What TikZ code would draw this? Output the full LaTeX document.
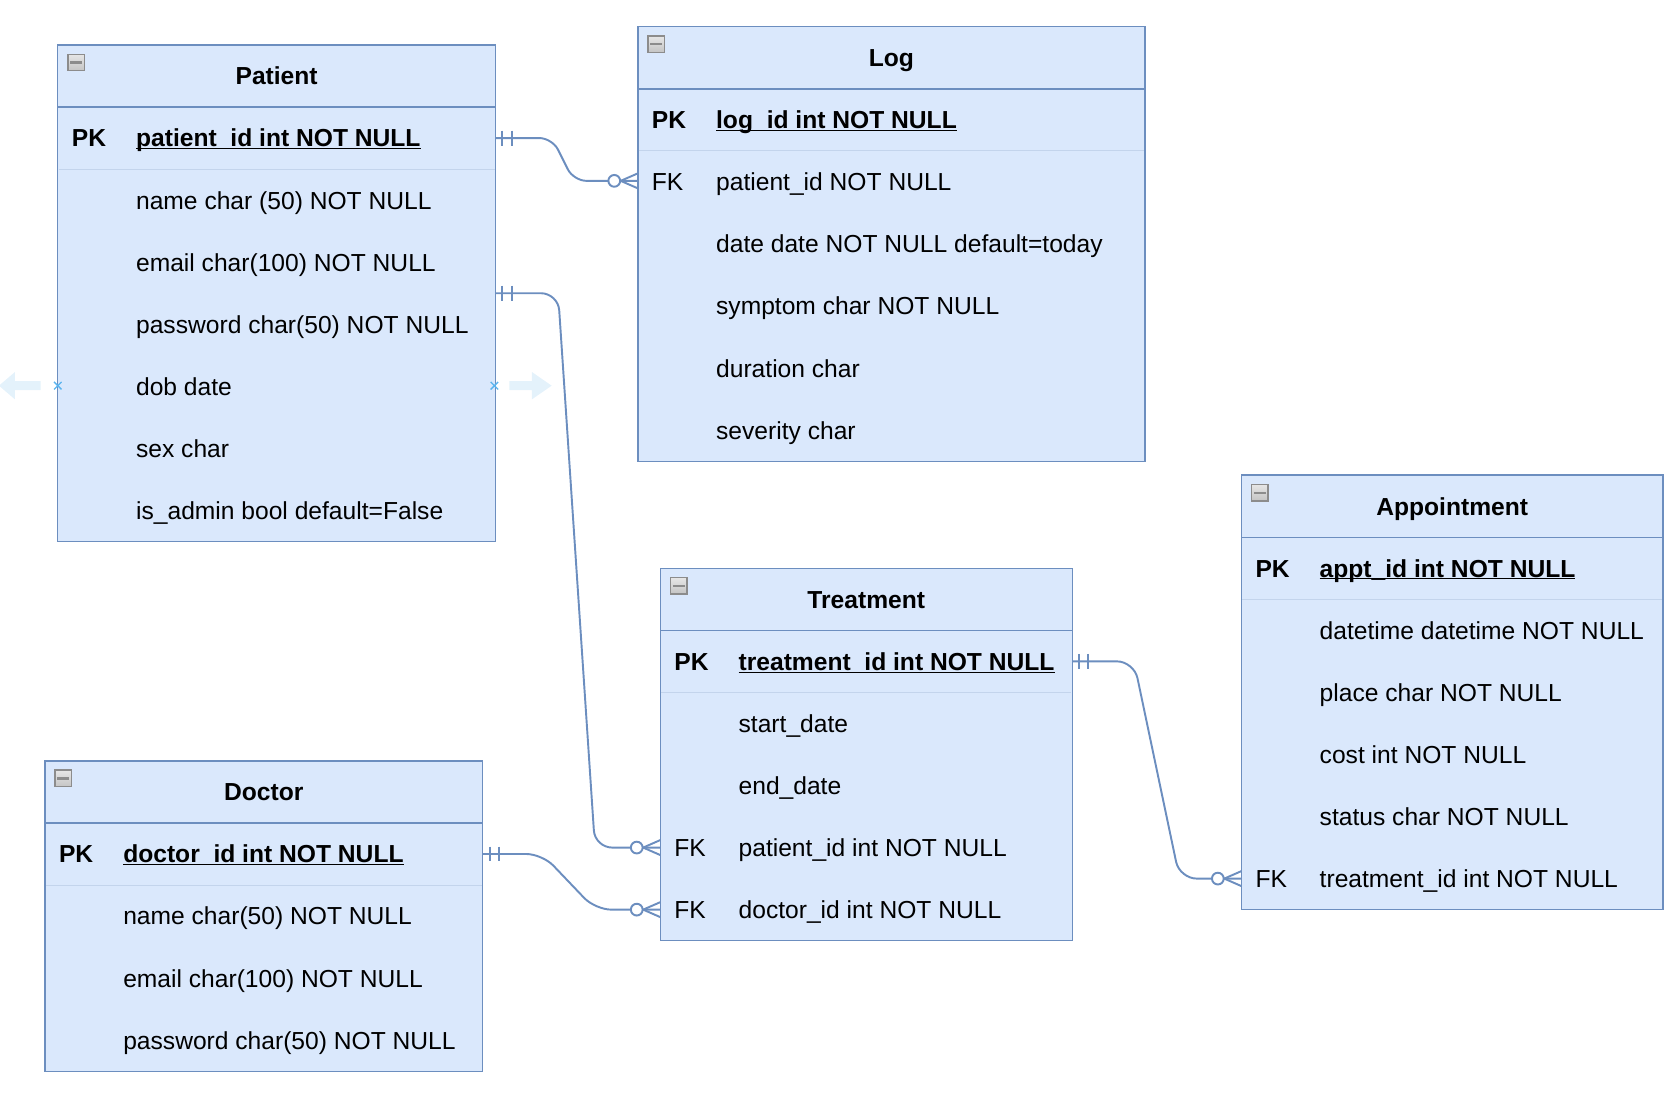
\documentclass[tikz,border=0pt]{standalone}
\usepackage{fontspec}
\setmainfont{Liberation Sans}
\usetikzlibrary{fit}
\definecolor{erfill}{HTML}{DAE8FC}
\definecolor{erstroke}{HTML}{6C8EBF}
\definecolor{ersep}{HTML}{C3D4EC}
\definecolor{selblue}{HTML}{5AB4EE}
\definecolor{selarrow}{HTML}{E4F2FB}
\definecolor{iconedge}{HTML}{8C8C8C}
\definecolor{icontop}{HTML}{E6E6E6}
\definecolor{iconbot}{HTML}{C4C4C4}
\tikzset{
  tabbox/.style={draw=erstroke, fill=erfill, line width=1.3pt, inner sep=0pt},
  tabline/.style={draw=erstroke, line width=1.3pt},
  pksep/.style={draw=ersep, line width=0.9pt},
  rowtxt/.style={anchor=base west, inner sep=0pt, font=\fontsize{23}{27}\selectfont},
  titletxt/.style={anchor=base, inner sep=0pt, font=\fontsize{23}{27}\selectfont\bfseries},
  erline/.style={draw=erstroke, line width=1.8pt},
  iconbox/.style={draw=iconedge, line width=1.3pt, top color=icontop, bottom color=iconbot,
    minimum width=15.5pt, minimum height=15.5pt, inner sep=0pt,
    path picture={\draw[line width=2pt] ([xshift=-5.5pt]path picture bounding box.center) -- ([xshift=5.5pt]path picture bounding box.center);}},
  selmark/.style={draw=selblue, line width=1.2pt},
  selarr/.style={fill=selarrow, draw=none}
}
% #1 id, #2 left, #3 top, #4 right, #5 rows, #6 title
\newcommand\ertable[6]{%
  \pgfmathsetmacro\erbot{#3+58+58*#5}%
  \pgfmathsetmacro\ercx{(#2+#4)/2}%
  \node[tabbox, fit={(#2,#3) (#4,\erbot)}] (#1) {};
  \draw[tabline] (#2,{#3+58}) -- (#4,{#3+58});
  \draw[pksep] ({#2+0.8},{#3+116}) -- ({#4-0.8},{#3+116});
  \node[titletxt] (#1-title) at (\ercx,{#3+29+8.3}) {#6};
  \node[iconbox] (#1-icon) at ({#2+17.2},{#3+16.4}) {};
}
% #1 name, #2 left, #3 top, #4 row index, #5 key, #6 field
\newcommand\errow[6]{%
  \node[rowtxt] (#1-k) at ({#2+13},{#3+58*#4+29+8.3}) {#5};
  \node[rowtxt] (#1-f) at ({#2+73},{#3+58*#4+29+8.3}) {#6};
}
\newcommand\pkfield[1]{\underline{\smash{#1}}}
\newcommand\mandone[1]{%
  \draw[erline] ([xshift=6.5pt,yshift=7pt]#1) -- ([xshift=6.5pt,yshift=-7pt]#1);
  \draw[erline] ([xshift=15pt,yshift=7pt]#1) -- ([xshift=15pt,yshift=-7pt]#1);
}
\newcommand\zeromany[1]{%
  \draw[erline] ([xshift=-16pt]#1) -- ([yshift=7pt]#1);
  \draw[erline] ([xshift=-16pt]#1) -- ([yshift=-7pt]#1);
  \draw[erline, fill=white] ([xshift=-22pt]#1) circle[radius=5.5pt];
}
\begin{document}
\begin{tikzpicture}[x=1pt,y=-1pt]
\useasboundingbox (0,0) rectangle (1568,1022);

% ---------- Patient ----------
\ertable{patient}{54}{42}{463}{7}{Patient}
\errow{pat1}{54}{42}{1}{\bfseries PK}{\bfseries\pkfield{patient\_id int NOT NULL}}
\errow{pat2}{54}{42}{2}{}{name char (50) NOT NULL}
\errow{pat3}{54}{42}{3}{}{email char(100) NOT NULL}
\errow{pat4}{54}{42}{4}{}{password char(50) NOT NULL}
\errow{pat5}{54}{42}{5}{}{dob date}
\errow{pat6}{54}{42}{6}{}{sex char}
\errow{pat7}{54}{42}{7}{}{is\_admin bool default=False}

% ---------- Log ----------
\ertable{log}{596}{25}{1070}{6}{Log}
\errow{log1}{596}{25}{1}{\bfseries PK}{\bfseries\pkfield{log\_id int NOT NULL}}
\errow{log2}{596}{25}{2}{FK}{patient\_id NOT NULL}
\errow{log3}{596}{25}{3}{}{date date NOT NULL default=today}
\errow{log4}{596}{25}{4}{}{symptom char NOT NULL}
\errow{log5}{596}{25}{5}{}{duration char}
\errow{log6}{596}{25}{6}{}{severity char}

% ---------- Appointment ----------
\ertable{appt}{1160}{444}{1554}{6}{Appointment}
\errow{ap1}{1160}{444}{1}{\bfseries PK}{\bfseries\pkfield{appt\_id int NOT NULL}}
\errow{ap2}{1160}{444}{2}{}{datetime datetime NOT NULL}
\errow{ap3}{1160}{444}{3}{}{place char NOT NULL}
\errow{ap4}{1160}{444}{4}{}{cost int NOT NULL}
\errow{ap5}{1160}{444}{5}{}{status char NOT NULL}
\errow{ap6}{1160}{444}{6}{FK}{treatment\_id int NOT NULL}

% ---------- Treatment ----------
\ertable{treat}{617}{531}{1002}{5}{Treatment}
\errow{tr1}{617}{531}{1}{\bfseries PK}{\bfseries\pkfield{treatment\_id int NOT NULL}}
\errow{tr2}{617}{531}{2}{}{start\_date}
\errow{tr3}{617}{531}{3}{}{end\_date}
\errow{tr4}{617}{531}{4}{FK}{patient\_id int NOT NULL}
\errow{tr5}{617}{531}{5}{FK}{doctor\_id int NOT NULL}

% ---------- Doctor ----------
\ertable{doctor}{42}{711}{451}{4}{Doctor}
\errow{doc1}{42}{711}{1}{\bfseries PK}{\bfseries\pkfield{doctor\_id int NOT NULL}}
\errow{doc2}{42}{711}{2}{}{name char(50) NOT NULL}
\errow{doc3}{42}{711}{3}{}{email char(100) NOT NULL}
\errow{doc4}{42}{711}{4}{}{password char(50) NOT NULL}

% ---------- connector end points ----------
\coordinate (patPK) at (463,129);
\coordinate (patX) at (463,274);
\coordinate (logFK) at (596,169);
\coordinate (trPK) at (1002,618);
\coordinate (trFKp) at (617,792);
\coordinate (trFKd) at (617,850);
\coordinate (docPK) at (451,798);
\coordinate (apFK) at (1160,821);

% ---------- connectors ----------
\draw[erline, rounded corners=12pt] (patPK) -- (516,129) -- (536,169) -- (logFK);
\draw[erline, rounded corners=16pt] (patX) -- (521.5,274) -- (556,792) -- (trFKp);
\draw[erline, rounded corners=15pt] (docPK) -- (506.7,798) -- (556.3,850) -- (trFKd);
\draw[erline, rounded corners=16pt] (trPK) -- (1059.6,618) -- (1102.3,821) -- (apFK);

\mandone{patPK}
\mandone{patX}
\mandone{docPK}
\mandone{trPK}
\zeromany{logFK}
\zeromany{trFKp}
\zeromany{trFKd}
\zeromany{apFK}

% ---------- selection handles ----------
\fill[selarr] (-1,360.4) -- (14,347.6) -- (14,356.2) -- (38,356.2) -- (38,364.6) -- (14,364.6) -- (14,373.2) -- cycle;
\fill[selarr] (515.5,360.4) -- (497,347.6) -- (497,356.2) -- (476,356.2) -- (476,364.6) -- (497,364.6) -- (497,373.2) -- cycle;
\draw[selmark] (50.5,356.9) -- (57.5,363.9) (50.5,363.9) -- (57.5,356.9);
\draw[selmark] (458.5,356.9) -- (465.5,363.9) (458.5,363.9) -- (465.5,356.9);
\end{tikzpicture}
\end{document}
